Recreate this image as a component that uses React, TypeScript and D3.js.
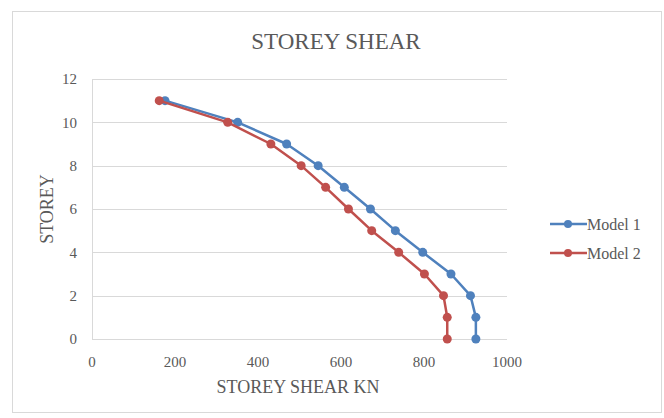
import React from "react";
import * as d3 from "d3";

const storeys = [0, 1, 2, 3, 4, 5, 6, 7, 8, 9, 10, 11];
const model1 = [925, 925, 912, 865, 797, 731, 671, 608, 545, 469, 351, 176];
const model2 = [856, 856, 847, 801, 739, 674, 618, 563, 504, 431, 327, 162];
const xTicks = [0, 200, 400, 600, 800, 1000];
const yTicks = [0, 2, 4, 6, 8, 10, 12];
const seriesNames = ["Model 1", "Model 2"];
const colors = ["#4F81BD", "#C0504D"];

export default function App() {
  const W = 664, H = 418;
  const x = d3.scaleLinear().domain([0, 1000]).range([92, 507]);
  const y = d3.scaleLinear().domain([0, 12]).range([339, 79]);
  const line = d3.line<[number, number]>().x(d => x(d[0])).y(d => y(d[1]));
  const series = [model1, model2].map(vals => vals.map((v, i) => [v, storeys[i]] as [number, number]));
  const font = "Liberation Serif, Times New Roman, serif";
  const txt = "#595959";
  return (
    <svg width={W} height={H} style={{ position: "absolute", left: 0, top: 0 }}>
      <rect x={0} y={0} width={W} height={H} fill="#fff" />
      <rect x={12.5} y={11.5} width={649} height={401} fill="#fff" stroke="#d9d9d9" />
      <text x={336} y={49} textAnchor="middle" fontFamily={font} fontSize={23} fill={txt}>STOREY SHEAR</text>
      {yTicks.map(t => (
        <g key={t}>
          <line x1={x(0)} x2={x(1000)} y1={Math.round(y(t)) + 0.5} y2={Math.round(y(t)) + 0.5} stroke="#d9d9d9" />
          <text x={77} y={y(t)} dy="0.35em" textAnchor="end" fontFamily={font} fontSize={15} fill={txt}>{t}</text>
        </g>
      ))}
      <line x1={x(0) + 0.5} x2={x(0) + 0.5} y1={y(12)} y2={y(0)} stroke="#d9d9d9" />
      {xTicks.map(t => (
        <text key={t} x={x(t)} y={362} dy="0.35em" textAnchor="middle" fontFamily={font} fontSize={15} fill={txt}>{t}</text>
      ))}
      <text x={298} y={387} dy="0.35em" textAnchor="middle" fontFamily={font} fontSize={18} fill={txt}>STOREY SHEAR KN</text>
      <text transform={`translate(47,209) rotate(-90)`} dy="0.35em" textAnchor="middle" fontFamily={font} fontSize={18} fill={txt}>STOREY</text>
      {series.map((s, si) => (
        <g key={si}>
          <path d={line(s) || ""} fill="none" stroke={colors[si]} strokeWidth={2.5} strokeLinejoin="round" />
          {s.map((d, i) => (
            <circle key={i} cx={x(d[0])} cy={y(d[1])} r={4.5} fill={colors[si]} />
          ))}
        </g>
      ))}
      {seriesNames.map((n, i) => {
        const ly = 224 + i * 29;
        return (
          <g key={n}>
            <line x1={550} x2={587} y1={ly} y2={ly} stroke={colors[i]} strokeWidth={2.5} />
            <circle cx={568} cy={ly} r={4} fill={colors[i]} />
            <text x={587} y={ly} dy="0.35em" fontFamily={font} fontSize={16} fill={txt}>{n}</text>
          </g>
        );
      })}
    </svg>
  );
}
